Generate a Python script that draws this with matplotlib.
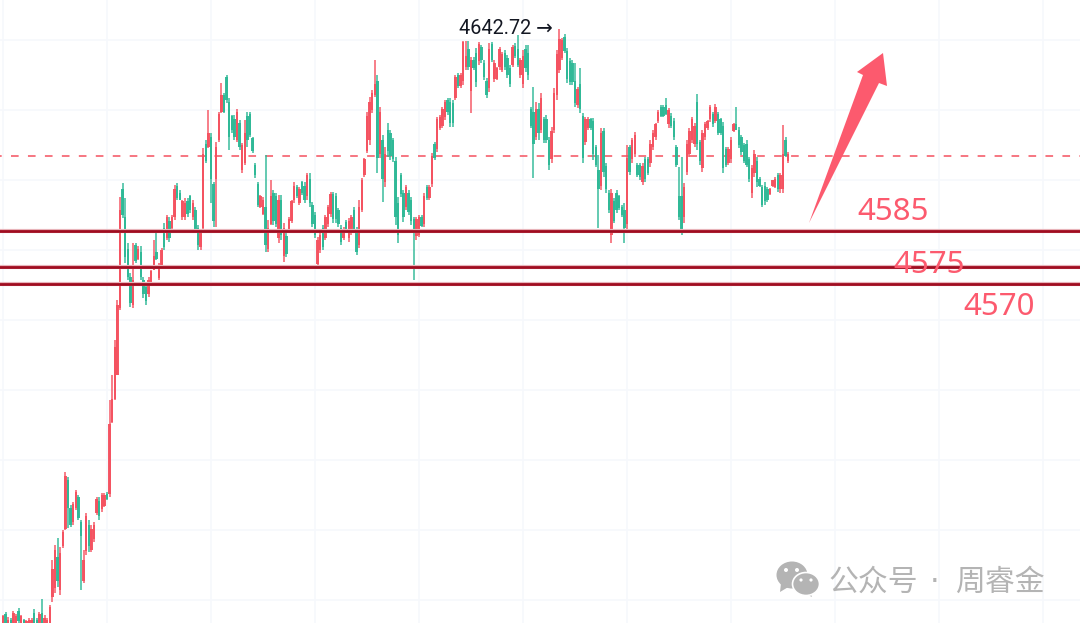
import matplotlib
matplotlib.use("Agg")
import numpy as np
from matplotlib import pyplot as plt
from matplotlib.patches import Ellipse, Polygon

highs = [
    4475.3,4476.1,4474.7,4474.4,4476.4,4475.6,4477.3,4475.3,4474.1,4473.9,
    4474.4,4474.4,4477,4474.4,4476.1,4479.9,4475.3,4474.4,4478.1,4491,
    4495.3,4497.3,4494.7,4499.6,4516.1,4514.7,4506.7,4507.6,4511,4509.6,
    4502.4,4493.9,4504.4,4502.4,4501,4501.9,4509,4509,4510.1,4510.1,
    4510.4,4536.7,4543.9,4553.9,4565.3,4594.7,4598.7,4594.4,4581.6,4573,
    4581.6,4581.6,4580.7,4580.7,4571.9,4570.1,4571.9,4573.9,4582.4,4584.4,
    4575.9,4580.1,4587.3,4589.6,4589,4589.6,4598.1,4598.7,4596.7,4593.9,
    4594.4,4594.4,4595.3,4593.9,4591.9,4586.7,4585.3,4608.7,4611,4619.6,
    4613,4599,4610.4,4619,4627.3,4624.4,4629.6,4623,4618.1,4618.1,
    4619.9,4616.7,4610.1,4616.7,4619,4619,4611.9,4604.4,4599,4595.3,
    4594.7,4606.7,4588.1,4599.6,4596.7,4595.9,4595.3,4595.3,4587.3,4584.4,
    4589,4593.9,4599,4598.1,4597.6,4599.3,4599,4601.6,4601.6,4593.3,
    4590.4,4583.3,4584.7,4586.7,4589.6,4592.4,4596.1,4596.1,4595.9,4591.6,
    4586.7,4586.1,4588.1,4588.7,4589.6,4591.9,4586.1,4593.9,4600.1,4605.9,
    4619,4623.3,4625.3,4633.9,4629.6,4620.4,4612.4,4609,4615.9,4613.9,
    4611.6,4606.1,4594.7,4601.6,4596.7,4598.1,4596.7,4594.7,4589,4589,
    4589.6,4589.6,4595.9,4598.1,4598.1,4607.3,4610.4,4617.6,4618.1,4620.4,
    4622.4,4623,4623,4622.4,4629.6,4630.1,4630.1,4639.3,4639.3,4639.3,
    4634.7,4634.7,4637.3,4639,4638.1,4633.9,4628.7,4638.7,4639,4633.9,
    4631.9,4637.6,4636.1,4636.7,4635.3,4632.4,4638.1,4638.7,4641,4634.4,
    4636.7,4638.1,4638.1,4620.4,4626.1,4621.9,4621.6,4624.4,4617.6,4618.1,
    4611.9,4614.7,4625.9,4636.7,4642.7,4640.1,4641.3,4637.3,4634.4,4633.9,
    4633,4626.1,4631.6,4618.7,4617.6,4617.6,4617.3,4617.3,4609.6,4606.7,
    4614.4,4614.4,4604.4,4596.7,4597,4594.4,4596.7,4595.3,4592.4,4593,
    4609.6,4609.6,4611.6,4613.3,4604.4,4604.4,4604.4,4606.1,4606.1,4611,
    4613.9,4615.9,4619.6,4621,4621,4623,4620.1,4618.7,4617.3,4609.6,
    4603.3,4606.1,4598.7,4611,4614.4,4617.6,4615.9,4624.1,4611,4613.9,
    4616.1,4616.7,4621,4619,4621.3,4619,4617.3,4616.1,4609,4609,
    4611.9,4615.9,4620.4,4614.7,4612.4,4610.1,4611,4606.1,4603.9,4608.1,
    4606.1,4600.4,4598.1,4599,4597.6,4597.3,4599.6,4600.4,4601.6,4601.6,
    4615.3,4611.9,4607.6,
]
lows = [
    4472.4,4472.4,4471.6,4471,4472.1,4472.1,4472.7,4472.1,4471.9,4471.6,
    4471.6,4472.1,4472.4,4471.6,4472.4,4472.4,4471.6,4471.6,4471.6,4479,
    4481.6,4483.3,4481,4494.4,4499.6,4500.1,4500.4,4501,4505.3,4502.4,
    4482.4,4484.4,4492.4,4493.3,4493.3,4496.1,4503.9,4502.4,4504.7,4506.1,
    4508.1,4509,4530.1,4536.7,4543.9,4562.4,4588.7,4575.9,4571,4563.3,
    4563,4575.9,4576.7,4571,4565.9,4563.9,4566.1,4570.1,4573.9,4576.7,
    4571,4574.7,4579.6,4582.4,4581.9,4585.3,4588.1,4593.9,4593.9,4588.1,
    4588.1,4589,4590.1,4588.1,4584.4,4579.6,4579.6,4585.3,4604.4,4608.7,
    4593,4586.1,4586.1,4610.4,4618.7,4618.7,4621.6,4608.1,4613,4611,
    4610.4,4608.1,4601.6,4603.9,4609,4611.9,4607.3,4600.1,4591.9,4591.6,
    4589.6,4579,4579,4586.7,4586.7,4586.1,4581.6,4582.4,4576.1,4577.6,
    4584.4,4587.3,4593,4594.4,4592.4,4595.3,4593,4593.9,4591.9,4586.1,
    4583,4574.7,4578.7,4579.6,4582.4,4586.1,4589,4587.3,4587.3,4586.1,
    4581,4582.4,4584.4,4581.9,4583.9,4584.4,4578.1,4580.1,4590.4,4600.4,
    4607.3,4609.6,4618.7,4623.3,4601.6,4605.9,4593.3,4597.6,4606.1,4605.3,
    4604.7,4586.7,4581.6,4594.7,4587.6,4591,4589.6,4586.7,4571,4582.4,
    4583.3,4586.1,4586.1,4593.9,4593.9,4597.6,4605.3,4607.6,4613.9,4614.4,
    4616.7,4618.1,4614.7,4614.7,4622.4,4625.9,4625.9,4626.7,4631,4631,
    4618.7,4631,4626.1,4632.4,4633,4628.1,4623,4624.7,4633.3,4627.6,
    4628.1,4631,4630.4,4631,4628.7,4626.1,4631.9,4634.4,4631.9,4628.7,
    4625.9,4630.4,4628.1,4614.4,4600.1,4611,4611,4613,4610.1,4610.1,
    4602.4,4604.4,4613,4622.4,4630.1,4633.9,4635.9,4627.3,4626.7,4626.7,
    4620.4,4620.1,4618.7,4604.4,4609.6,4613.9,4613.9,4605.3,4603.3,4585.9,
    4596.7,4600.4,4595.9,4590.1,4581.6,4587.3,4590.1,4591,4589,4581.6,
    4585.3,4601,4604.4,4606.1,4600.4,4599.6,4598.1,4599,4601,4603.3,
    4608.1,4611,4615.9,4617.6,4617.6,4618.1,4614.4,4614.4,4611,4603.3,
    4588.1,4583.9,4587.3,4601,4606.1,4610.1,4609,4608.1,4603.9,4601.9,
    4611,4613.9,4616.1,4614.7,4615.9,4612.4,4612.4,4601.6,4603.3,4603.9,
    4604.4,4613.3,4613.9,4608.7,4606.7,4604.4,4603.3,4599,4594.4,4600.4,
    4597.6,4597.6,4591.9,4592.4,4593.3,4595.3,4597.6,4597.3,4596.1,4595.9,
    4595.9,4606.1,4604.4,
]
opens = [
    4473,4475.5,4472,4474,4473,4472.5,4476.5,4472.5,4474,4472,
    4472,4472.5,4476,4474,4473,4476,4472,4472,4472,4480.5,
    4483,4492,4482.5,4495,4500,4514,4506,4502,4506,4509,
    4502,4485,4493.5,4501,4494,4497,4504.5,4508,4505.5,4506.5,
    4510,4510,4530.5,4537,4544,4563,4597,4589,4580,4572,
    4564,4581,4577,4579,4571,4569,4567,4570.5,4574,4579,
    4571.5,4575,4586,4583,4588,4586,4589,4598,4596,4589,
    4589,4593.5,4595,4589,4591,4586,4580.5,4586,4610,4609,
    4612,4598.5,4600,4611,4619,4624,4629,4622,4618,4617,
    4611,4616,4602.5,4604.5,4618,4618.5,4611.5,4604,4598.5,4592,
    4590,4592,4580,4587,4596,4595,4583,4594,4578,4583.5,
    4585,4588,4594,4597.5,4593,4599,4598,4595,4600,4592.5,
    4589.5,4575.5,4579.5,4586,4583,4587,4590,4595.5,4595,4591,
    4586,4583,4587.5,4583,4584.5,4591,4585.5,4581,4591,4601,
    4608,4611,4619.5,4624,4628,4607,4611,4599,4614,4613,
    4611,4605,4593,4601,4596,4592,4596,4594,4588.5,4583.5,
    4584,4589,4587,4597.5,4594.5,4598.5,4610,4608.5,4614.5,4615,
    4617.5,4622.5,4622,4621.5,4623,4629.5,4626.5,4628,4632,4637,
    4625,4634,4636,4633.5,4637.5,4633,4628,4626,4638.5,4628.5,
    4628.5,4632,4631,4636,4634.5,4631.5,4632.5,4638,4637,4629.5,
    4627,4637,4636,4620,4619,4612,4620,4614,4617,4617,
    4611,4605.5,4614,4624,4631,4634.5,4640.5,4636.5,4633.5,4633,
    4628,4621,4627,4618,4610.5,4614.5,4617,4616.5,4609,4602.5,
    4598,4613.5,4603.5,4596,4584,4593.5,4596,4595,4592,4591,
    4587,4609,4605.5,4607,4604,4604,4599,4605.5,4605.5,4604.5,
    4609,4612,4616.5,4620.5,4620.5,4621,4615.5,4618,4616.5,4609,
    4595,4595,4589,4602,4607,4611,4610,4622,4610.5,4603,
    4612,4614.5,4617,4618.5,4616.5,4618.5,4617,4615,4608.5,4604.5,
    4605.5,4613.5,4615.5,4614,4612,4609.5,4610,4605.5,4596,4601.5,
    4605,4600,4597.5,4598,4597,4595.5,4598,4597.5,4601,4597,
    4597,4611,4605,
]
closes = [
    4475,4473,4474,4471.5,4476,4475,4473.5,4475,4472,4473.5,
    4474,4474,4473,4472,4475.5,4473,4474.5,4474,4477.5,4488.5,
    4494,4485,4493,4499,4515,4506,4501,4507,4510.5,4503,
    4498,4491,4503.5,4495,4500,4501,4508.5,4503.5,4509.5,4509.5,
    4508.5,4530,4537,4552,4564,4591,4589.5,4577.5,4572,4564.5,
    4571,4576.5,4580,4572,4567,4565,4571,4573.5,4578,4577,
    4575,4579.5,4580.5,4589,4583,4589,4597,4594.5,4594,4593.5,
    4593,4590,4591,4593,4585.5,4581,4584.5,4607,4605,4613,
    4600,4588,4609,4618.5,4624,4619,4622.5,4612,4614,4612,
    4619,4609,4609.5,4613,4611,4612.5,4608,4601,4592.5,4595,
    4594,4581,4586,4595,4588,4587,4594,4584,4586,4578.5,
    4588.5,4593.5,4598,4595,4597,4596,4594,4601,4593,4587,
    4584,4582.5,4584,4580.5,4589,4592,4595.5,4588.5,4588.5,4587,
    4582,4585.5,4585,4588,4589,4585.5,4579,4592,4599.5,4605.5,
    4618,4622,4624.5,4627,4606,4619,4600,4607,4608,4606.5,
    4605.5,4589,4584,4595.5,4589,4597.5,4590.5,4588,4585.5,4588.5,
    4589,4586.5,4595,4594.5,4597.5,4606.5,4606,4617,4617.5,4620,
    4622,4619,4616,4616,4629,4626.5,4629.5,4639,4635,4632,
    4634,4631.5,4627.5,4638.5,4634,4629,4624,4637,4634,4633,
    4631.5,4637,4635.5,4632,4629.5,4627,4637.5,4635,4632.5,4634,
    4635,4631.5,4629.5,4615,4610,4620,4613,4623,4611,4611,
    4604,4613.5,4624.5,4635.5,4640,4639.5,4636.5,4628.5,4627.5,4627.5,
    4621.5,4625.5,4620,4606,4617,4617,4614.5,4607,4604,4597,
    4613,4602,4597,4591,4596,4588,4591,4591.5,4589.5,4586,
    4606,4602,4611,4612.5,4601,4600.5,4603.5,4600,4601.5,4610,
    4613,4615.5,4619,4618,4618,4618.5,4619.5,4615,4612,4604,
    4589,4585,4597.5,4610,4613.5,4617,4615,4610,4605,4613,
    4615.5,4616.5,4620.5,4615.5,4620.5,4613,4613,4603,4604,4608.5,
    4611,4615.5,4614,4609.5,4607.5,4605,4604,4600,4603,4607,
    4599,4598,4592.5,4593.5,4594,4597,4599.5,4600,4597,4601,
    4607,4606.5,4607,
]

level_prices = [4585, 4574.7, 4570]
level_labels = ["4585", "4575", "4570"]
last_price = 4606.4
peak_label = "4642.72 \u2192"
watermark = ["公众号", "·", "周睿金"]

RED = "#f4515f"
GREEN = "#2db896"
PINK = "#fc5a6e"
GREY = "#b4b4b4"

opens, highs, lows, closes = map(np.array, (opens, highs, lows, closes))
bars = np.arange(len(closes))
up = closes >= opens
colors = np.where(up, RED, GREEN)

fig = plt.figure(figsize=(10.8, 6.23), dpi=100)
ax = fig.add_axes([0, 0, 1, 1])
ax.set_xlim(-1.154, 414.2)
ax.set_ylim(4473, 4651)
for s in ax.spines.values():
    s.set_visible(False)
ax.tick_params(length=0, labelbottom=False, labelleft=False)
ax.set_xticks(np.arange(0, 401, 40))
ax.set_yticks(np.arange(4479.7, 4650, 20))
ax.grid(color="#f6f8fc", lw=1.2)
ax.set_axisbelow(True)

ax.axhline(last_price, color=RED, lw=1.1, ls=(3.9, (5, 6.1)), zorder=1)

# candles, red is up here
ax.vlines(bars, lows, highs, colors=colors, lw=1.15, alpha=0.9, zorder=2)
ax.bar(bars, np.abs(closes - opens), bottom=np.minimum(opens, closes),
       width=0.95, color=colors, alpha=0.95, lw=0, zorder=3)

for p in level_prices:
    ax.axhline(p, color="#e8b4ba", lw=3.0, zorder=4)
    ax.axhline(p, color="#a00c20", lw=2.0, zorder=4)

# overlay in picture pixels for the hand drawn bits
over = fig.add_axes([0, 0, 1, 1], zorder=5)
over.set_xlim(0, 1080)
over.set_ylim(623, 0)
over.axis("off")
over.patch.set_alpha(0)

over.add_patch(Polygon([(809, 223), (863, 75), (857, 72), (883, 53), (887, 86),
                        (879, 83)], closed=True, color=PINK, lw=0))

for label, cx, cy in zip(level_labels, [893, 929, 999], [212, 265, 307]):
    over.text(cx, cy, label, color=PINK, fontsize=22.5, family="Noto Sans",
              ha="center", va="center")

over.text(459, 29, peak_label, color="#131722", fontsize=14.3,
          family=["Roboto", "DejaVu Sans"], ha="left", va="center")

# wechat mark
over.add_patch(Polygon([(781, 583), (780, 592), (790, 586)], color=GREY, lw=0))
over.add_patch(Ellipse((792, 575), 31, 27, color=GREY, lw=0))
over.add_patch(Polygon([(810, 591), (812, 597), (802, 592)], color=GREY, lw=0))
over.add_patch(Ellipse((806, 584), 27, 23, fc=GREY, ec="white", lw=1.2))
for ex, ey, er in [(786, 570, 2), (797, 570, 2), (801, 580, 1.6), (811, 580, 1.6)]:
    over.add_patch(Ellipse((ex, ey), er * 2, er * 2, color="white", lw=0))

over.text(828, 582, watermark[0], color=GREY, fontsize=21.5,
          family=["Noto Sans CJK SC", "DejaVu Sans"], ha="left", va="center")
over.text(935, 582, watermark[1], color=GREY, fontsize=21.5,
          family="DejaVu Sans", ha="center", va="center")
over.text(955, 582, watermark[2], color=GREY, fontsize=21.5,
          family=["Noto Sans CJK SC", "DejaVu Sans"], ha="left", va="center")

fig.savefig("out.png", dpi=100)
